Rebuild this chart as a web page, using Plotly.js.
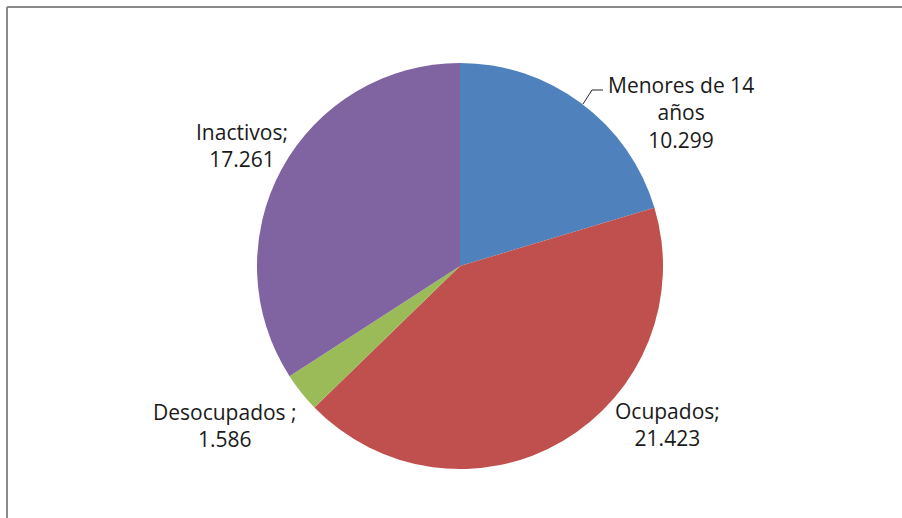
<!DOCTYPE html>
<html>
<head>
<meta charset="utf-8">
<script src="https://cdn.plot.ly/plotly-3.0.1.min.js"></script>
<style>
html,body{margin:0;padding:0;background:#fff;}
#chart{width:902px;height:518px;}
</style>
</head>
<body>
<div id="chart"></div>
<script>
// Data
const categories = ["Menores de 14 años", "Ocupados", "Desocupados", "Inactivos"];
const labelTexts = ["Menores de 14<br>años", "Ocupados;", "Desocupados ;", "Inactivos;"];
const values = [10.299, 21.423, 1.586, 17.261];
const colors = ["#4F81BD", "#C0504D", "#9BBB59", "#8064A2"];

// Layout helpers (pixel -> paper)
const W = 902, H = 518;
const px = x => x / W;
const py = y => 1 - y / H;

// Label anchor positions (pixels, centre of each label block)
const labelPos = [[681, 112], [667, 424], [225, 425], [242, 145]];

const annotations = categories.map((c, i) => ({
  xref: 'paper', yref: 'paper',
  x: px(labelPos[i][0]), y: py(labelPos[i][1]),
  xanchor: 'center', yanchor: 'middle',
  text: labelTexts[i] + '<br>' + values[i].toFixed(3),
  showarrow: false,
  align: 'center',
  font: {family: 'Open Sans, sans-serif', size: 21, color: '#1a1a1a'}
}));

const shapes = [
  // frame (top and left)
  {type: 'line', xref: 'paper', yref: 'paper', x0: px(7), y0: py(7), x1: px(902), y1: py(7), line: {color: '#8a8a8a', width: 2}},
  {type: 'line', xref: 'paper', yref: 'paper', x0: px(7), y0: py(7), x1: px(7), y1: py(518), line: {color: '#8a8a8a', width: 2}},
  // leader line for first label
  {type: 'path', xref: 'paper', yref: 'paper',
   path: `M ${px(583)} ${py(104)} L ${px(592)} ${py(90)} L ${px(603)} ${py(90)}`,
   line: {color: '#262626', width: 1}}
];

const trace = {
  type: 'pie',
  labels: categories,
  values: values,
  marker: {colors: colors, line: {width: 0}},
  sort: false,
  direction: 'clockwise',
  rotation: 0,
  textinfo: 'none',
  hoverinfo: 'label+value',
  domain: {x: [px(257), px(663)], y: [py(469), py(63)]}
};

const layout = {
  width: W, height: H,
  margin: {l: 0, r: 0, t: 0, b: 0},
  showlegend: false,
  paper_bgcolor: '#ffffff',
  annotations: annotations,
  shapes: shapes
};

Plotly.newPlot('chart', [trace], layout, {displayModeBar: false, staticPlot: true});
</script>
</body>
</html>
